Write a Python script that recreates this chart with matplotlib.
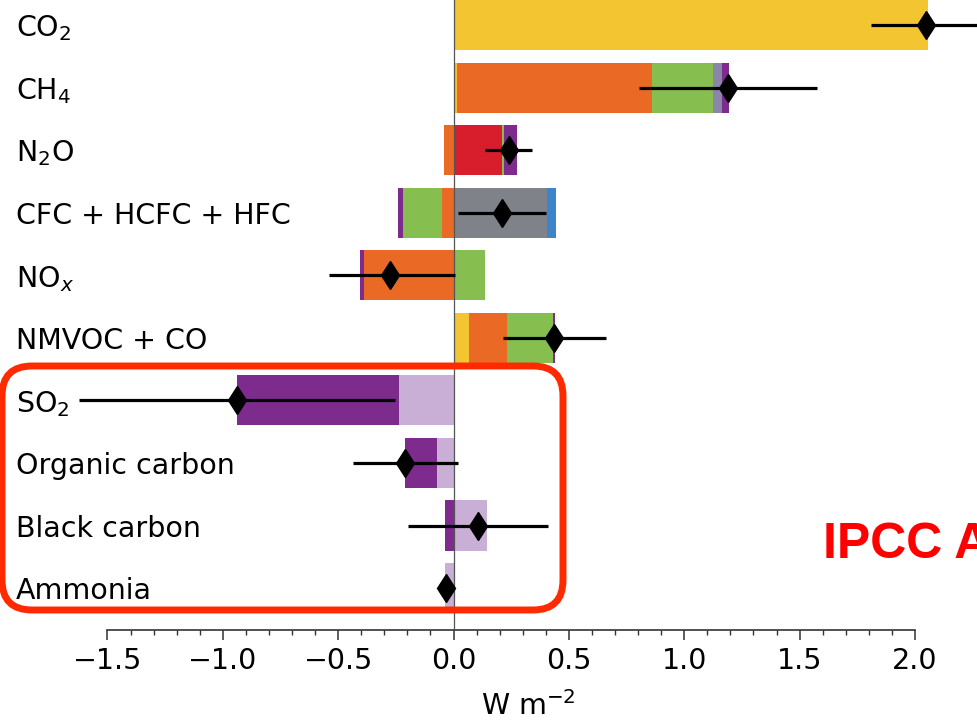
import numpy as np
import matplotlib
matplotlib.use("Agg")
import matplotlib.pyplot as plt
from matplotlib.patches import FancyBboxPatch
from matplotlib.ticker import FixedLocator

# rows, top to bottom
labels = ['CO$_2$', 'CH$_4$', 'N$_2$O', 'CFC + HCFC + HFC', 'NO$_x$',
          'NMVOC + CO', 'SO$_2$', 'Organic carbon', 'Black carbon', 'Ammonia']

# contributions per forcing component (W m-2), stacked in this order
co2      = [2.055, 0.017, 0.0, 0.0, 0.0, 0.068, 0.0, 0.0, 0.0, 0.0]
ch4      = [0.0, 0.844, -0.040, -0.051, -0.386, 0.165, 0.0, 0.0, 0.0, 0.0]
n2o      = [0.0, 0.0, 0.208, 0.0, 0.0, 0.0, 0.0, 0.0, 0.0, 0.0]
halo     = [0.0, 0.0, 0.0, 0.405, 0.0, 0.0, 0.0, 0.0, 0.0, 0.0]
halo2    = [0.0, 0.0, 0.0, 0.041, 0.0, 0.0, 0.0, 0.0, 0.0, 0.0]
o3       = [0.0, 0.263, 0.012, -0.170, 0.136, 0.199, 0.0, 0.0, 0.0, 0.0]
h2o      = [0.0, 0.040, 0.0, 0.0, 0.0, 0.0, 0.0, 0.0, 0.0, 0.0]
aer_rad  = [0.0, 0.0, 0.0, 0.0, 0.0, 0.0, -0.236, -0.071, 0.144, -0.036]
aer_cld  = [0.0, 0.029, 0.055, -0.018, -0.018, 0.007, -0.702, -0.139, -0.038, 0.0]

# net best estimate and range
best = [2.05, 1.188, 0.24, 0.21, -0.275, 0.436, -0.938, -0.21, 0.108, -0.033]
low  = [1.81, 0.806, 0.137, 0.02, -0.541, 0.215, -1.622, -0.435, -0.197, -0.040]
high = [2.29, 1.575, 0.34, 0.40, 0.006, 0.662, -0.252, 0.018, 0.41, -0.026]

components = [
    (co2, '#F2C531'),
    (ch4, '#EA6A25'),
    (n2o, '#D81E2D'),
    (halo, '#808289'),
    (halo2, '#3D84CB'),
    (o3, '#86BF4F'),
    (h2o, '#8A86A8'),
    (aer_rad, '#C9AED6'),
    (aer_cld, '#7D2C8E'),
]

W, H = 978, 722
fig = plt.figure(figsize=(W / 100, H / 100), dpi=100)

# axes reach past the top/right edge (picture is a crop)
xmin, xmax = -1.75, 2.4
ymin, ymax = -0.67, 9.5
x_left, x_right = 49.8, 1007.2
y_bot, y_top = 722 - 630, 722 + 6.3
ax = fig.add_axes([x_left / W, y_bot / H, (x_right - x_left) / W, (y_top - y_bot) / H])
ax.set_xlim(xmin, xmax)
ax.set_ylim(ymin, ymax)

n = len(labels)
ypos = np.arange(n)[::-1]

pos_base = np.zeros(n)
neg_base = np.zeros(n)
for vals, col in components:
    v = np.array(vals)
    p = np.where(v > 0, v, 0)
    m = np.where(v < 0, v, 0)
    ax.barh(ypos, p, left=pos_base, height=0.8, color=col, lw=0, zorder=2)
    ax.barh(ypos, m, left=neg_base, height=0.8, color=col, lw=0, zorder=2)
    pos_base += p
    neg_base += m

ax.axvline(0, color='#555555', lw=0.9, zorder=3)

ax.hlines(ypos, low, high, color='black', lw=2.3, zorder=4)
ax.plot(best, ypos, ls='none', marker='d', ms=14.5, color='black', zorder=5)

for s in ['left', 'top', 'right']:
    ax.spines[s].set_visible(False)
ax.spines['bottom'].set_bounds(-1.5, 2.0)
ax.spines['bottom'].set_linewidth(1.2)
ax.spines['bottom'].set_color('#333333')

ax.set_xticks(np.arange(-1.5, 2.01, 0.5))
ax.xaxis.set_minor_locator(FixedLocator(np.round(np.arange(-1.5, 2.001, 0.1), 2)))
ax.tick_params(axis='x', which='major', length=7, width=1.1, color='#333333',
               labelsize=20.5, pad=5)
ax.tick_params(axis='x', which='minor', length=3.6, width=1.0, color='#333333')
ax.set_xlabel('W m$^{-2}$', fontsize=20.5, labelpad=12)

ax.set_yticks(ypos)
ax.set_yticklabels(labels, fontsize=20.5)
ax.tick_params(axis='y', length=0, pad=24.3)
for t in ax.get_yticklabels():
    t.set_ha('left')

# red highlight box around the aerosol rows
box = FancyBboxPatch((0.02, 1.12), 5.61, 2.44,
                     boxstyle='round,pad=0,rounding_size=0.3',
                     transform=fig.dpi_scale_trans, fill=False,
                     edgecolor='#FF2A00', lw=5, zorder=10)
fig.patches.append(box)

fig.text(823 / W, 1 - 558 / H, 'IPCC AR6', color='#FF0000', fontsize=36,
         fontweight='bold', family='Liberation Sans', ha='left', va='baseline')

fig.savefig('out.png', dpi=100)
